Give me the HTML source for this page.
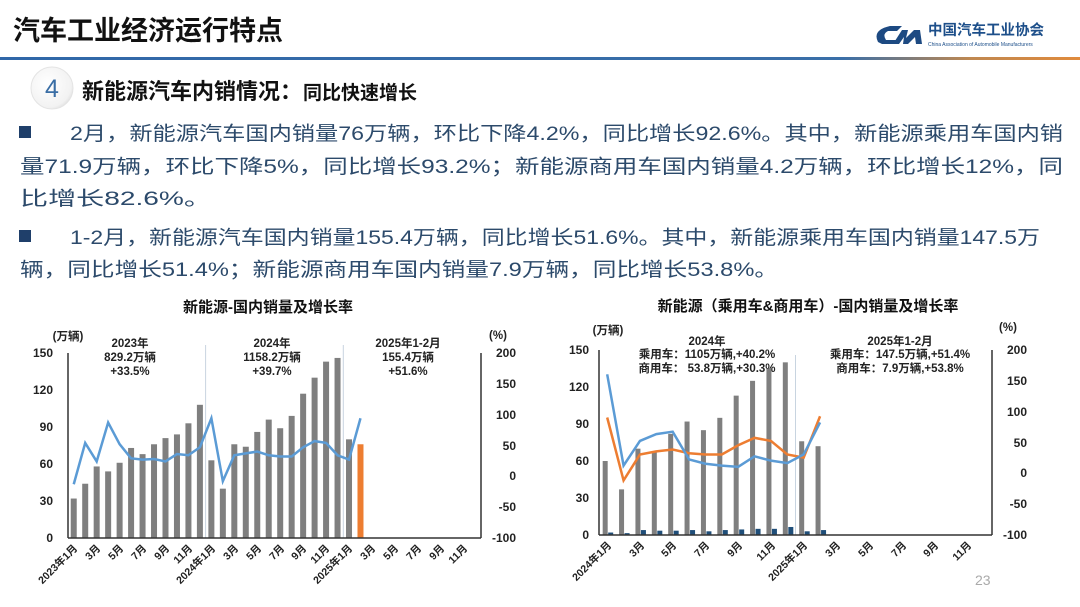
<!DOCTYPE html>
<html><head><meta charset="utf-8"><style>
body{margin:0;background:#fff;width:1080px;height:607px;overflow:hidden;font-family:"Liberation Sans","Noto Sans CJK SC",sans-serif}
svg{display:block}
.t{font-family:"Liberation Sans","Noto Sans CJK SC",sans-serif}
.b{fill:#2c4a6b;font-size:19.5px}
.tk{font-size:12px;font-weight:bold;fill:#222}
.an{font-size:11.5px;font-weight:bold;fill:#222;text-anchor:middle}
.xl{font-size:10.5px;font-weight:bold;fill:#222;text-anchor:end}
</style></head><body>
<svg id="s" width="1080" height="607" viewBox="0 0 1080 607" class="t">
<defs>
<linearGradient id="hl" x1="0" x2="1"><stop offset="0" stop-color="#3067a8"/><stop offset="0.78" stop-color="#3a6fa8"/><stop offset="0.9" stop-color="#c08850"/><stop offset="1" stop-color="#e08a3c"/></linearGradient>
<radialGradient id="cg" cx="0.4" cy="0.4" r="0.7"><stop offset="0" stop-color="#fff"/><stop offset="0.8" stop-color="#f2f2f2"/><stop offset="1" stop-color="#d8d8d8"/></radialGradient>
</defs>
<!-- header -->
<text x="13" y="40" font-size="27" font-weight="bold" fill="#111">汽车工业经济运行特点</text>
<rect x="0" y="57" width="1080" height="3" fill="url(#hl)"/>
<path d="M878 42 Q872 30 890 26 L902 26 L897 31 L888 31 Q882 34 886 40 L896 40 L899 44 L882 44 Z" fill="#1d4a82"/>
<path d="M893 44 L902 30 L908 30 L906 38 L914 30 L920 30 L922 44 L916 44 L915 37 L908 44 L903 44 L904 37 L899 44 Z" fill="#1d4a82"/>
<text x="928" y="35" font-size="14.5" font-weight="bold" fill="#1d4f8a">中国汽车工业协会</text>
<text x="928" y="46" font-size="5" fill="#1d4f8a">China Association of Automobile Manufacturers</text>
<circle cx="52" cy="88" r="21" fill="url(#cg)" stroke="#e4e4e4"/>
<text x="52" y="97" font-size="25" fill="#3a6ea5" text-anchor="middle">4</text>
<text x="82" y="99" font-size="22" font-weight="bold" fill="#111">新能源汽车内销情况：</text>
<text x="303" y="99" font-size="19" font-weight="bold" fill="#111">同比快速增长</text>
<!-- bullets -->
<rect x="19" y="126" width="12" height="12" fill="#1f3f6a"/>
<rect x="19" y="230" width="12" height="12" fill="#1f3f6a"/>
<text class="b" x="70" y="140" textLength="993" lengthAdjust="spacingAndGlyphs">2月，新能源汽车国内销量76万辆，环比下降4.2%，同比增长92.6%。其中，新能源乘用车国内销</text>
<text class="b" x="20" y="173" textLength="1043" lengthAdjust="spacingAndGlyphs">量71.9万辆，环比下降5%，同比增长93.2%；新能源商用车国内销量4.2万辆，环比增长12%，同</text>
<text class="b" x="20" y="205" textLength="192" lengthAdjust="spacingAndGlyphs">比增长82.6%。</text>
<text class="b" x="70" y="244" textLength="970" lengthAdjust="spacingAndGlyphs">1-2月，新能源汽车国内销量155.4万辆，同比增长51.6%。其中，新能源乘用车国内销量147.5万</text>
<text class="b" x="20" y="276" textLength="758" lengthAdjust="spacingAndGlyphs">辆，同比增长51.4%；新能源商用车国内销量7.9万辆，同比增长53.8%。</text>

<!-- left chart -->
<text x="268" y="312" font-size="15" font-weight="bold" fill="#111" text-anchor="middle">新能源-国内销量及增长率</text>
<text x="68" y="340" class="an">(万辆)</text>
<text x="498" y="339" class="an">(%)</text>
<g class="tk" text-anchor="end">
<text x="53" y="357">150</text><text x="53" y="394">120</text><text x="53" y="431">90</text><text x="53" y="468">60</text><text x="53" y="505">30</text><text x="53" y="542">0</text>
</g>
<g class="tk" text-anchor="end">
<text x="516" y="357">200</text><text x="516" y="388">150</text><text x="516" y="419">100</text><text x="516" y="450">50</text><text x="516" y="480">0</text><text x="516" y="511">-50</text><text x="516" y="542">-100</text>
</g>
<text class="an" x="130" y="347">2023年</text><text class="an" x="130" y="361">829.2万辆</text><text class="an" x="130" y="375">+33.5%</text>
<text class="an" x="272" y="347">2024年</text><text class="an" x="272" y="361">1158.2万辆</text><text class="an" x="272" y="375">+39.7%</text>
<text class="an" x="408" y="347">2025年1-2月</text><text class="an" x="408" y="361">155.4万辆</text><text class="an" x="408" y="375">+51.6%</text>
<g id="L"></g>
<g class="xl">
<text transform="translate(78,549) rotate(-45)">2023年1月</text>
<text transform="translate(101,549) rotate(-45)">3月</text>
<text transform="translate(124,549) rotate(-45)">5月</text>
<text transform="translate(147,549) rotate(-45)">7月</text>
<text transform="translate(170,549) rotate(-45)">9月</text>
<text transform="translate(193,549) rotate(-45)">11月</text>
<text transform="translate(216,549) rotate(-45)">2024年1月</text>
<text transform="translate(239,549) rotate(-45)">3月</text>
<text transform="translate(262,549) rotate(-45)">5月</text>
<text transform="translate(285,549) rotate(-45)">7月</text>
<text transform="translate(307,549) rotate(-45)">9月</text>
<text transform="translate(330,549) rotate(-45)">11月</text>
<text transform="translate(353,549) rotate(-45)">2025年1月</text>
<text transform="translate(376,549) rotate(-45)">3月</text>
<text transform="translate(399,549) rotate(-45)">5月</text>
<text transform="translate(422,549) rotate(-45)">7月</text>
<text transform="translate(445,549) rotate(-45)">9月</text>
<text transform="translate(468,549) rotate(-45)">11月</text>
</g>

<!-- right chart -->
<text x="808" y="311" font-size="15" font-weight="bold" fill="#111" text-anchor="middle">新能源（乘用车&amp;商用车）-国内销量及增长率</text>
<text x="608" y="334" class="an">(万辆)</text>
<text x="1008" y="331" class="an">(%)</text>
<g class="tk" text-anchor="end">
<text x="589" y="354">150</text><text x="589" y="391">120</text><text x="589" y="428">90</text><text x="589" y="465">60</text><text x="589" y="502">30</text><text x="589" y="539">0</text>
</g>
<g class="tk" text-anchor="end">
<text x="1027" y="354">200</text><text x="1027" y="385">150</text><text x="1027" y="416">100</text><text x="1027" y="447">50</text><text x="1027" y="477">0</text><text x="1027" y="508">-50</text><text x="1027" y="539">-100</text>
</g>
<text class="an" x="707" y="345">2024年</text><text class="an" x="707" y="358">乘用车：1105万辆,+40.2%</text><text class="an" x="707" y="372">商用车： 53.8万辆,+30.3%</text>
<text class="an" x="900" y="345">2025年1-2月</text><text class="an" x="900" y="358">乘用车：147.5万辆,+51.4%</text><text class="an" x="900" y="372">商用车：7.9万辆,+53.8%</text>
<g id="R"></g>
<g class="xl">
<text transform="translate(612,546) rotate(-45)">2024年1月</text>
<text transform="translate(645,546) rotate(-45)">3月</text>
<text transform="translate(677,546) rotate(-45)">5月</text>
<text transform="translate(710,546) rotate(-45)">7月</text>
<text transform="translate(743,546) rotate(-45)">9月</text>
<text transform="translate(776,546) rotate(-45)">11月</text>
<text transform="translate(808,546) rotate(-45)">2025年1月</text>
<text transform="translate(841,546) rotate(-45)">3月</text>
<text transform="translate(874,546) rotate(-45)">5月</text>
<text transform="translate(907,546) rotate(-45)">7月</text>
<text transform="translate(939,546) rotate(-45)">9月</text>
<text transform="translate(972,546) rotate(-45)">11月</text>
</g>
<text x="975" y="585" font-size="14" fill="#aaa">23</text>
</svg>
<script>
var NS="http://www.w3.org/2000/svg";
function el(p,n,a){var e=document.createElementNS(NS,n);for(var k in a)e.setAttribute(k,a[k]);p.appendChild(e);return e;}
// left
var L=document.getElementById("L"),x0=68,w=11.47,y0=538,sc=185/150;
var bars=[32,44,58,54,61,73,68,76,81,84,93,108,63,40,76,74,86,96,89,99,117,130,143,146,80,76];
var ln=[-15,52,22,85,50,27,25,26,22,34,32,45,92,-10,32,35,38,32,30,30,45,55,52,32,25,92];
el(L,"line",{x1:205.6,y1:345,x2:205.6,y2:538,stroke:"#c8d4e0","stroke-width":1});
el(L,"line",{x1:343.3,y1:345,x2:343.3,y2:538,stroke:"#c8d4e0","stroke-width":1});
bars.forEach(function(v,i){var c=x0+w*(i+.5);el(L,"rect",{x:c-3,y:y0-v*sc,width:6,height:v*sc,fill:i==25?"#ed7d31":"#7f7f7f"});});
el(L,"polyline",{points:ln.map(function(v,i){return (x0+w*(i+.5))+","+(475-v*185/300)}).join(" "),fill:"none",stroke:"#5b9bd5","stroke-width":2.5});
el(L,"line",{x1:68,y1:353,x2:68,y2:538,stroke:"#333","stroke-width":1.5});
el(L,"line",{x1:481,y1:353,x2:481,y2:538,stroke:"#333","stroke-width":1.5});
el(L,"line",{x1:68,y1:538,x2:481,y2:538,stroke:"#333","stroke-width":1.5});
// right
var R=document.getElementById("R"),X0=599,W=16.375,Y0=535;
var pb=[60,37,70,68,82,92,85,95,113,125,135,140,76,72];
var cb=[2,1.5,4,3.5,3.5,4,3,4,4.5,5,5,6.5,3,4];
var bl=[160,12,52,63,67,22,15,12,10,27,20,16,30,82];
var ol=[90,-12,30,35,38,32,30,30,45,57,52,30,25,92];
el(R,"line",{x1:795.5,y1:355,x2:795.5,y2:535,stroke:"#c8d4e0","stroke-width":1});
pb.forEach(function(v,i){var c=X0+W*(i+.5);el(R,"rect",{x:c-4.5,y:Y0-v*sc,width:5,height:v*sc,fill:"#7f7f7f"});el(R,"rect",{x:c+1,y:Y0-cb[i]*sc,width:5,height:cb[i]*sc,fill:"#1f4e79"});});
function pl(a,col){el(R,"polyline",{points:a.map(function(v,i){return (X0+W*(i+.5))+","+(473-v*185/300)}).join(" "),fill:"none",stroke:col,"stroke-width":2.5});}
pl(ol,"#ed7d31");pl(bl,"#5b9bd5");
el(R,"line",{x1:599,y1:350,x2:599,y2:535,stroke:"#333","stroke-width":1.5});
el(R,"line",{x1:992,y1:350,x2:992,y2:535,stroke:"#333","stroke-width":1.5});
el(R,"line",{x1:599,y1:535,x2:992,y2:535,stroke:"#333","stroke-width":1.5});
</script>
</body></html>
